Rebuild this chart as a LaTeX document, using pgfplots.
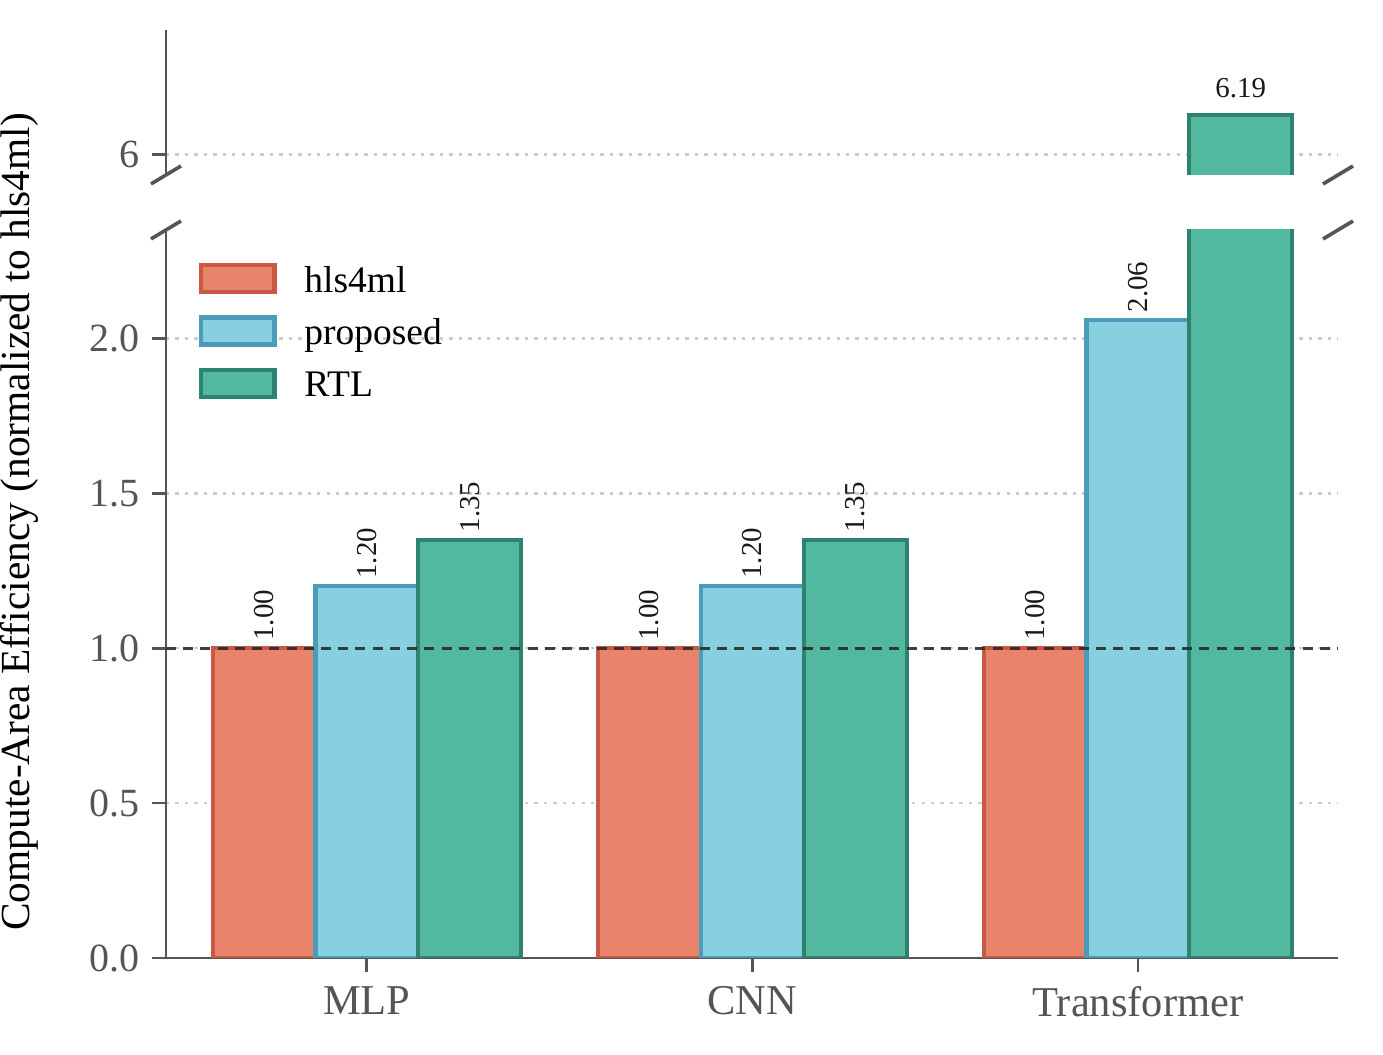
\documentclass[border=0pt]{standalone}
\usepackage{pgfplots}
\pgfplotsset{compat=1.18}
\usepackage{fontspec}
\setmainfont{Liberation Serif}
\definecolor{hlsfill}{HTML}{E8836C}
\definecolor{hlsedge}{HTML}{C85A44}
\definecolor{propfill}{HTML}{88CFE0}
\definecolor{propedge}{HTML}{4A9CB8}
\definecolor{rtlfill}{HTML}{52B89F}
\definecolor{rtledge}{HTML}{2E8270}
\definecolor{spine}{HTML}{555555}
\definecolor{gridc}{HTML}{CCCCCC}
\definecolor{refline}{HTML}{2B2B2B}

\pgfplotsset{
  common/.style={
    scale only axis, width=421.92pt,
    xmin=-0.521, xmax=2.519,
    axis y line*=left,
    axis line style={-, spine, line width=1pt},
    every tick/.style={spine, line width=1pt},
    major tick length=5pt,
    tick align=outside,
    ymajorgrids,
    grid style={gridc, line width=0.9pt, dash pattern=on 1.2pt off 2.2pt},
    tick label style={font=\fontsize{14.4}{16}\selectfont, text=spine},
    yticklabel style={xshift=-1pt},
    /pgf/number format/assume math mode=true,
    bar width=0.2667, bar shift=0pt,
    clip=true,
  },
  hls/.style={ybar, fill=hlsfill, draw=hlsedge, line width=1.5pt},
  prop/.style={ybar, fill=propfill, draw=propedge, line width=1.5pt},
  rtl/.style={ybar, fill=rtlfill, draw=rtledge, line width=1.5pt},
  vlab/.style={nodes near coords={\pgfmathprintnumber[fixed,fixed zerofill,precision=2]{\pgfplotspointmeta}},
    nodes near coords style={rotate=90, anchor=west, inner sep=2pt, font=\fontsize{10.4}{12}\selectfont, text=black!90}},
}

\begin{document}
\begin{tikzpicture}
\begin{axis}[common, name=lower,
  height=262.08pt,
  ymin=0, ymax=2.35,
  ytick={0,0.5,1,1.5,2},
  yticklabel style={/pgf/number format/.cd, fixed, fixed zerofill, precision=1},
  axis x line*=bottom,
  xtick={0,1,2}, xticklabels={MLP,CNN,Transformer},
  xticklabel style={font=\fontsize{15.3}{17}\selectfont, yshift=-1.8pt},
  legend image code/.code={\draw[#1] (0pt,-4.85pt) rectangle (26.6pt,4.85pt);},
  legend cell align=left,
  legend style={at={(0.0273,0.957)}, anchor=north west, draw=none, fill=none,
    inner sep=0pt, row sep=6.6pt, column sep=10pt,
    nodes={inner sep=0pt, anchor=west, text height=11pt, text depth=1.2pt,
      font=\fontsize{13.5}{15}\selectfont, text=black}},
]
\addplot[hls, vlab] coordinates {(-0.2667,1.00) (0.7333,1.00) (1.7333,1.00)};
\addlegendentry{hls4ml}
\addplot[prop, vlab] coordinates {(0,1.20) (1,1.20) (2,2.06)};
\addlegendentry{proposed}
\addplot[rtl, vlab] coordinates {(0.2667,1.35) (1.2667,1.35)};
\addlegendentry{RTL}
\addplot[rtl, forget plot] coordinates {(2.2667,6.19)};
\addplot[sharp plot, forget plot, draw=refline, draw opacity=0.9, line width=1.2pt, dash pattern=on 3.6pt off 2.6pt] coordinates {(-0.521,1) (2.519,1)};
\end{axis}

\begin{axis}[common, name=upper,
  at={(0pt,281.88pt)}, anchor=south west,
  height=52.2pt,
  ymin=5.9, ymax=6.6,
  ytick={6},
  hide x axis,
]
\addplot[ybar, fill=rtlfill, draw=none, nodes near coords={\pgfmathprintnumber[fixed,fixed zerofill,precision=2]{\pgfplotspointmeta}},
  nodes near coords style={anchor=south, font=\fontsize{10.4}{12}\selectfont, text=black!90, yshift=2.5pt}] coordinates {(2.2667,6.19)};
\addplot[sharp plot, draw=rtledge, line width=1.5pt, line join=miter] coordinates {(2.1333,5.8) (2.1333,6.19) (2.4,6.19) (2.4,5.8)};
\end{axis}

\foreach \p in {upper.south west, upper.south east, lower.north west, lower.north east}{
  \draw[spine, line width=1.3pt] ([shift={(-5.4pt,-3.24pt)}]\p) -- ([shift={(5.4pt,3.24pt)}]\p);
}

\node[rotate=90, font=\fontsize{14.9}{16}\selectfont, text=black] at (-52.8pt,157pt) {Compute-Area Efficiency (normalized to hls4ml)};

\pgfresetboundingbox
\path (-59.76pt,-34.92pt) rectangle (438.12pt,344.88pt);
\end{tikzpicture}
\end{document}
